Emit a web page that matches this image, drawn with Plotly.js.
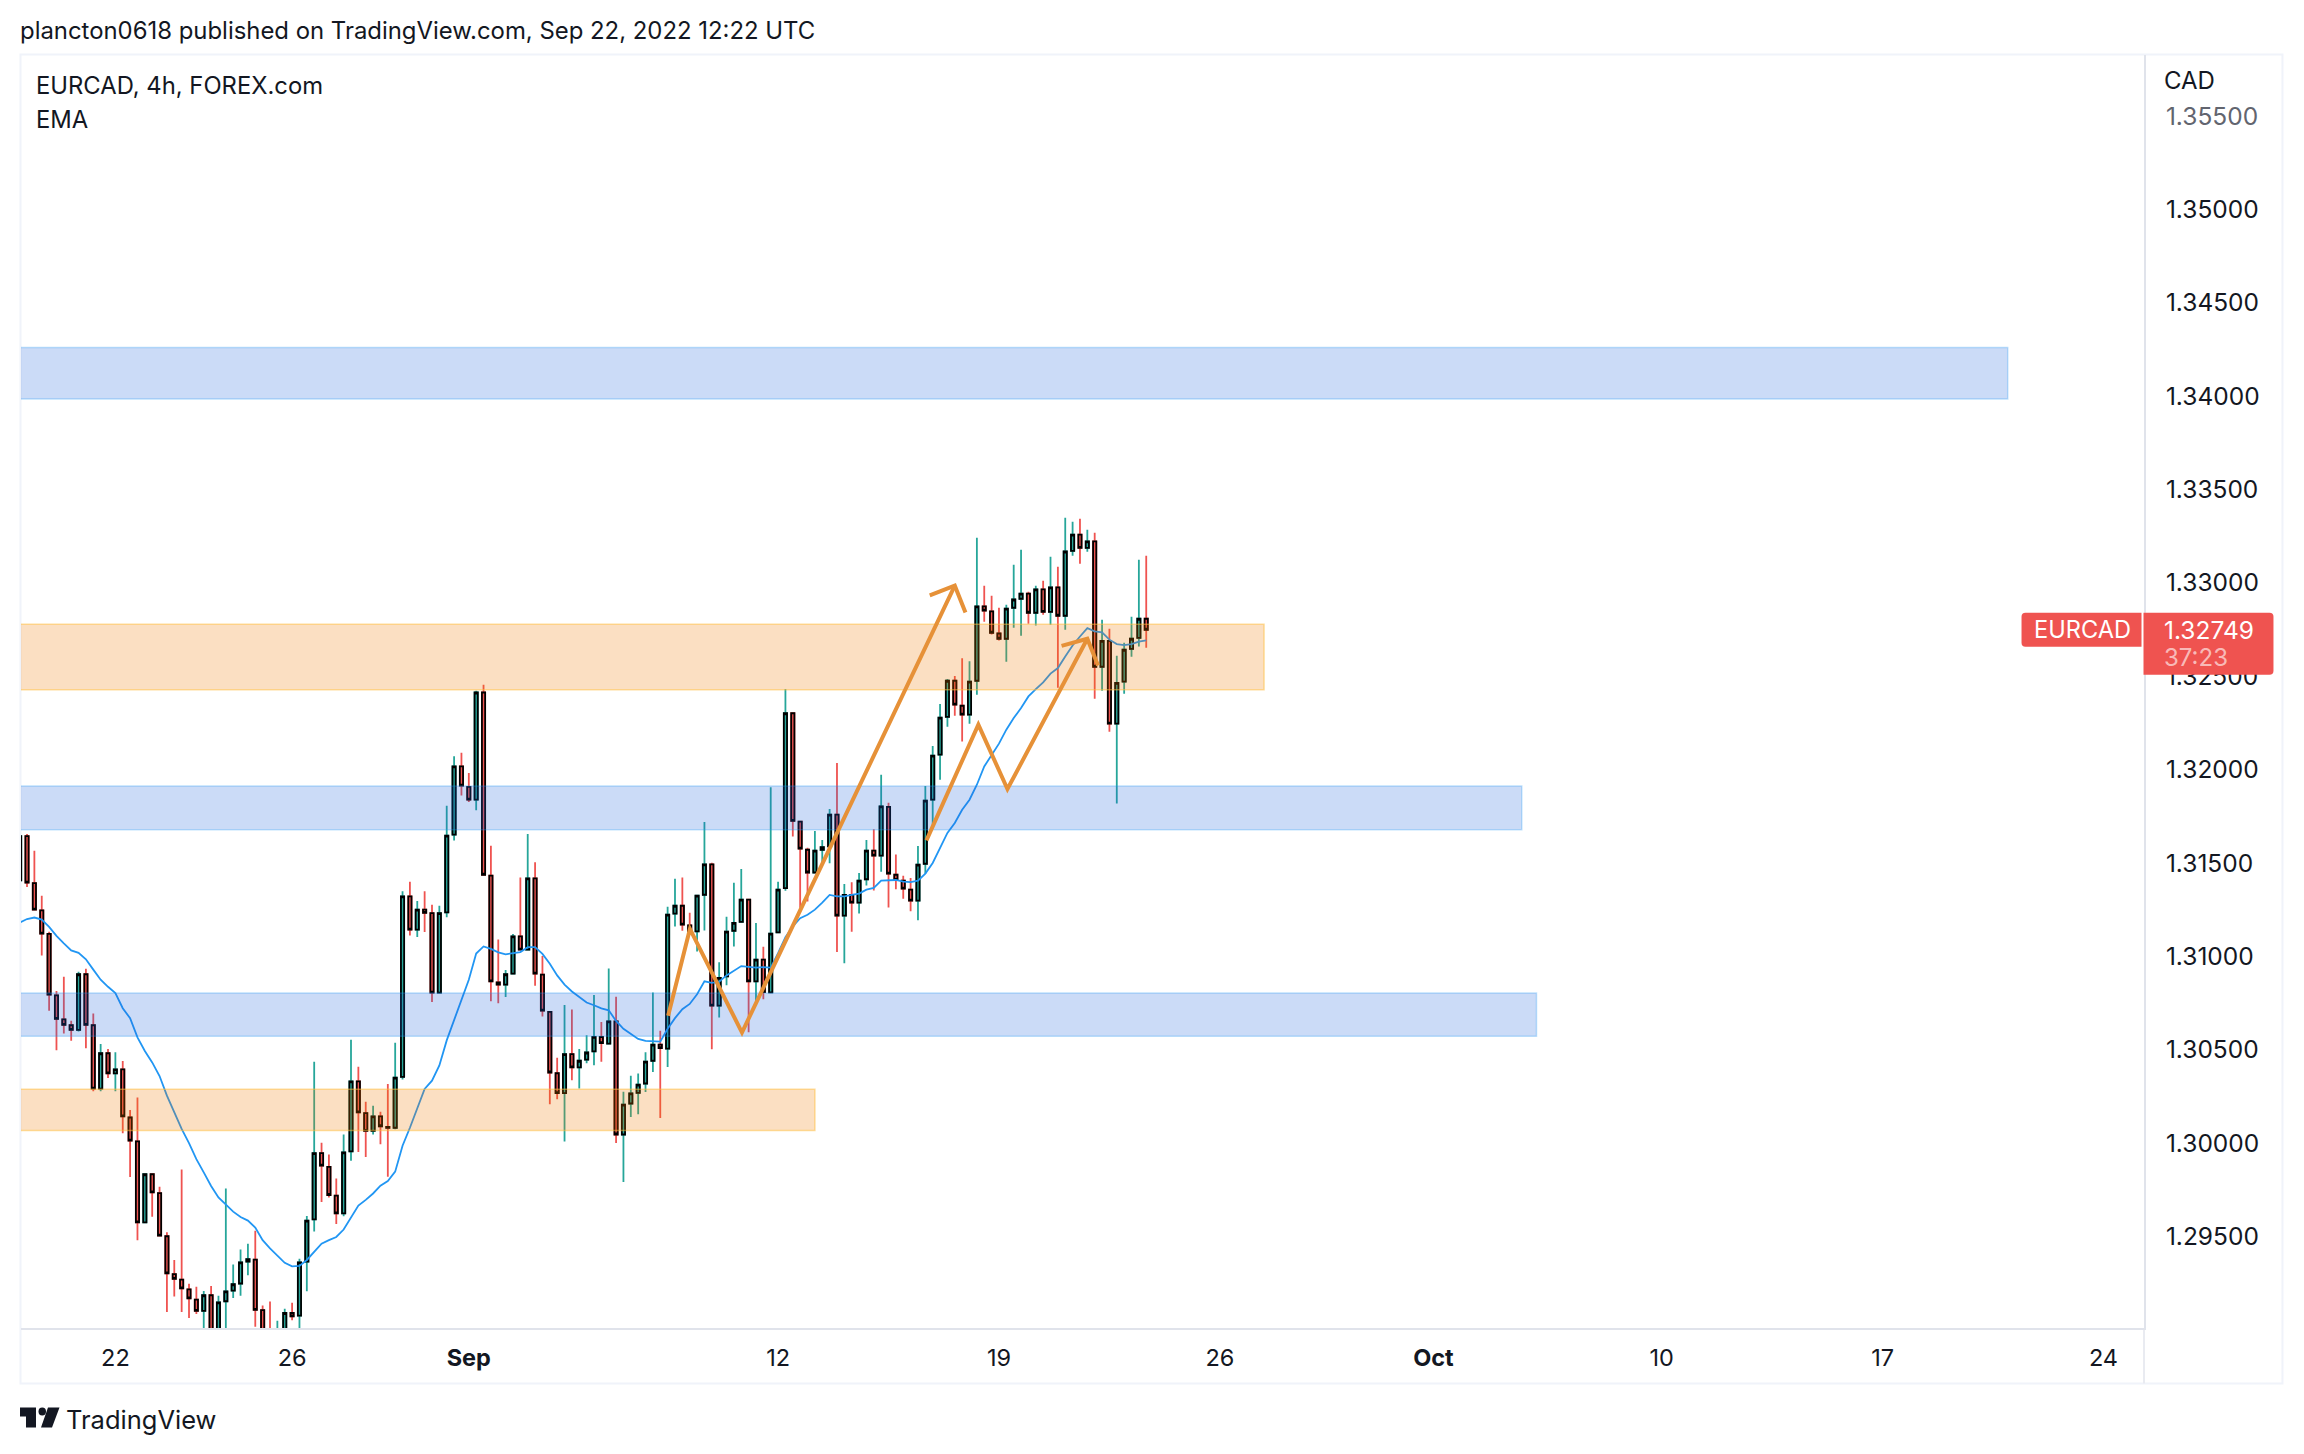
<!DOCTYPE html>
<html>
<head>
<meta charset="utf-8">
<script src="https://cdn.plot.ly/plotly-3.0.1.min.js"></script>
<style>html,body{margin:0;padding:0;background:#fff;overflow:hidden}</style>
</head>
<body>
<div id="chart" style="width:2304px;height:1454px"></div>
<script>
// Bar number 0 = Aug 22 00:00; 4h bars, six per trading day
const firstBar = -13;
const open = [1.31407,1.31644,1.31392,1.31246,1.31120,1.30791,1.30663,1.30631,1.30606,1.30904,1.30631,1.30292,1.30481,
1.30373,1.30395,1.30137,1.30009,1.29575,1.29833,1.29732,1.29501,1.29298,1.29269,1.29216,1.29162,1.29101,1.29185,1.28990,1.29153,1.29210,1.29248,1.29365,1.29376,1.29105,1.28995,1.28960,1.28990,1.29090,1.29076,1.29365,1.29591,1.29946,1.29873,1.29719,1.29623,1.29956,1.30330,1.30160,1.30065,1.30143,1.30086,1.30082,1.30355,1.31321,1.31143,1.31250,1.31231,1.30806,1.31235,1.31652,1.32017,1.31908,1.31839,1.32413,1.31432,1.30860,1.30849,1.30908,1.31107,1.31036,1.31418,1.30902,1.30703,1.30374,1.30267,1.30476,1.30405,1.30447,1.30491,1.30568,1.30533,1.30652,1.30046,1.30212,1.30269,1.30319,1.30441,1.30527,1.30506,1.31229,1.31271,1.31166,1.31134,1.31330,1.31493,1.30736,1.30893,1.31137,1.31185,1.31304,1.30866,1.30982,1.30807,1.31128,1.31365,1.32302,1.31722,1.31571,1.31449,1.31571,1.31589,1.31759,1.31218,1.31329,1.31288,1.31413,1.31566,1.31539,1.31801,1.31437,1.31405,1.31357,1.31298,1.31496,1.31839,1.32080,1.32283,1.32476,1.32342,1.32294,1.32476,1.32874,1.32847,1.32729,1.32701,1.32867,1.32915,1.32942,1.32840,1.32965,1.32845,1.32976,1.32824,1.33172,1.33259,1.33188,1.33222,1.32551,1.32690,1.32246,1.32471,1.32647,1.32706,1.32808];
const high = [1.31663,1.31655,1.31566,1.31325,1.31132,1.30814,1.30891,1.30655,1.30917,1.30933,1.30694,1.30531,1.30504,
1.30487,1.30439,1.30177,1.30244,1.29833,1.29833,1.29766,1.29522,1.29374,1.29858,1.29246,1.29231,1.29208,1.29235,1.29183,1.29757,1.29350,1.29430,1.29461,1.29531,1.29130,1.29151,1.29049,1.29113,1.29145,1.29380,1.29610,1.30436,1.30002,1.29939,1.29810,1.30046,1.30554,1.30409,1.30221,1.30200,1.30168,1.30317,1.30537,1.31349,1.31399,1.31296,1.31349,1.31277,1.31271,1.31806,1.32072,1.32091,1.31982,1.32422,1.32455,1.31592,1.31090,1.30927,1.31120,1.31422,1.31655,1.31504,1.31002,1.30707,1.30457,1.30740,1.30715,1.30504,1.30577,1.30793,1.30648,1.30935,1.30784,1.30275,1.30361,1.30373,1.30487,1.30807,1.30602,1.31265,1.31416,1.31422,1.31233,1.31327,1.31719,1.31501,1.30969,1.31212,1.31394,1.31468,1.31304,1.31179,1.31051,1.31906,1.31399,1.32432,1.32307,1.31724,1.31581,1.31671,1.31623,1.31789,1.32036,1.31388,1.31397,1.31447,1.31623,1.31680,1.31973,1.31822,1.31545,1.31432,1.31420,1.31591,1.31912,1.32126,1.32351,1.32485,1.32501,1.32597,1.32581,1.33242,1.32985,1.32931,1.32867,1.32883,1.33097,1.33177,1.32953,1.32985,1.33011,1.33140,1.33086,1.33349,1.33327,1.33343,1.33284,1.33268,1.32803,1.32754,1.32610,1.32680,1.32819,1.33124,1.33145];
const low = [1.31401,1.31372,1.31248,1.31005,1.30709,1.30497,1.30587,1.30548,1.30598,1.30508,1.30277,1.30277,1.30348,
1.30277,1.30053,1.29818,1.29480,1.29575,1.29606,1.29502,1.29095,1.29179,1.29095,1.29063,1.29084,1.28960,1.28950,1.28950,1.28980,1.29170,1.29183,1.29292,1.29017,1.28950,1.28930,1.28930,1.28960,1.29051,1.28990,1.29206,1.29527,1.29684,1.29709,1.29566,1.29608,1.29906,1.29952,1.29925,1.30046,1.29994,1.29820,1.30074,1.30340,1.31112,1.31103,1.31130,1.30755,1.30805,1.31210,1.31621,1.31862,1.31826,1.31782,1.31437,1.30759,1.30749,1.30782,1.30906,1.31032,1.31036,1.30843,1.30678,1.30208,1.30235,1.30009,1.30336,1.30292,1.30428,1.30417,1.30436,1.30531,1.30000,1.29791,1.30139,1.30155,1.30273,1.30380,1.30134,1.30407,1.31160,1.31137,1.31132,1.31026,1.31139,1.30503,1.30673,1.30845,1.31053,1.31183,1.30594,1.30759,1.30770,1.30807,1.31126,1.31351,1.31642,1.31260,1.31294,1.31447,1.31495,1.31499,1.31023,1.30963,1.31132,1.31229,1.31380,1.31353,1.31453,1.31262,1.31359,1.31309,1.31241,1.31193,1.31443,1.31705,1.31946,1.32230,1.32289,1.32150,1.32246,1.32401,1.32792,1.32724,1.32692,1.32578,1.32760,1.32717,1.32781,1.32772,1.32829,1.32776,1.32439,1.32749,1.33145,1.33102,1.33167,1.32380,1.32423,1.32203,1.31818,1.32406,1.32605,1.32660,1.32653];
const close = [1.31644,1.31395,1.31250,1.31122,1.30795,1.30665,1.30633,1.30606,1.30904,1.30633,1.30292,1.30481,1.30373,
1.30395,1.30143,1.30013,1.29575,1.29833,1.29736,1.29504,1.29302,1.29273,1.29222,1.29168,1.29101,1.29185,1.28990,1.29147,1.29206,1.29244,1.29361,1.29378,1.29107,1.28980,1.28960,1.28990,1.29090,1.29072,1.29361,1.29585,1.29946,1.29879,1.29722,1.29623,1.29950,1.30330,1.30164,1.30065,1.30143,1.30090,1.30082,1.30350,1.31321,1.31143,1.31250,1.31233,1.30806,1.31231,1.31646,1.32017,1.31914,1.31839,1.32413,1.31437,1.30866,1.30849,1.30904,1.31107,1.31036,1.31418,1.30908,1.30709,1.30378,1.30267,1.30476,1.30405,1.30441,1.30485,1.30569,1.30535,1.30652,1.30046,1.30206,1.30266,1.30313,1.30436,1.30527,1.30508,1.31223,1.31271,1.31170,1.31135,1.31325,1.31493,1.30736,1.30885,1.31132,1.31179,1.31304,1.30866,1.30982,1.30808,1.31122,1.31357,1.32302,1.31726,1.31577,1.31449,1.31566,1.31585,1.31759,1.31218,1.31329,1.31288,1.31405,1.31566,1.31539,1.31803,1.31443,1.31409,1.31363,1.31298,1.31491,1.31834,1.32075,1.32278,1.32476,1.32348,1.32294,1.32471,1.32874,1.32851,1.32733,1.32701,1.32862,1.32911,1.32942,1.32840,1.32965,1.32845,1.32976,1.32824,1.33168,1.33259,1.33188,1.33222,1.32551,1.32690,1.32246,1.32465,1.32642,1.32701,1.32808,1.32749];
const ema = [1.31181,1.31200,1.31208,1.31197,1.31158,1.31110,1.31070,1.31032,1.31019,1.30984,1.30929,1.30875,1.30837,
1.30803,1.30722,1.30669,1.30566,1.30493,1.30432,1.30359,1.30254,1.30168,1.30076,1.30000,1.29914,1.29843,1.29770,1.29709,1.29671,1.29633,1.29604,1.29585,1.29547,1.29480,1.29436,1.29396,1.29359,1.29340,1.29342,1.29374,1.29418,1.29461,1.29480,1.29497,1.29537,1.29598,1.29665,1.29696,1.29730,1.29772,1.29797,1.29847,1.29986,1.30082,1.30187,1.30290,1.30334,1.30416,1.30550,1.30655,1.30770,1.30875,1.31015,1.31053,1.31040,1.31021,1.31011,1.31017,1.31023,1.31049,1.31049,1.31013,1.30960,1.30898,1.30849,1.30812,1.30784,1.30753,1.30738,1.30721,1.30711,1.30654,1.30612,1.30583,1.30558,1.30547,1.30545,1.30543,1.30612,1.30669,1.30717,1.30745,1.30797,1.30866,1.30858,1.30864,1.30898,1.30921,1.30948,1.30944,1.30940,1.30942,1.30940,1.31017,1.31103,1.31160,1.31204,1.31223,1.31250,1.31288,1.31329,1.31321,1.31321,1.31329,1.31336,1.31357,1.31367,1.31405,1.31409,1.31409,1.31400,1.31398,1.31405,1.31443,1.31500,1.31580,1.31661,1.31714,1.31785,1.31839,1.31919,1.32017,1.32080,1.32139,1.32214,1.32276,1.32330,1.32392,1.32431,1.32467,1.32514,1.32544,1.32606,1.32665,1.32713,1.32758,1.32740,1.32735,1.32696,1.32672,1.32667,1.32672,1.32685,1.32692];

const zoneTop    = [1.34261,1.32779,1.31912,1.30804,1.30288];
const zoneBottom = [1.33985,1.32428,1.31678,1.30572,1.30067];
const zoneEnd    = [257,156,191,193,95];
const zoneKind   = ['blue','orange','blue','blue','orange'];

// Hand-drawn arrows: [bar, price] vertices
const arrowA = [[75.07,1.30682],[78.03,1.31147],[85.1,1.30592],[114.0,1.32985]];
const arrowAHead = [[110.6,1.32933],[114.0,1.32985],[115.45,1.32842]];
const arrowB = [[110.15,1.31621],[117.2,1.32241],[121.15,1.31896],[132.0,1.32701]];
const arrowBHead = [[128.5,1.32663],[132.0,1.32701],[133.45,1.32558]];

const yTicks = [1.295,1.30,1.305,1.31,1.315,1.32,1.325,1.33,1.335,1.34,1.345,1.35,1.355];
const xTicks = [0,24,48,90,120,150,179,210,240,270];
const xLabels = ['22','26','<b>Sep</b>','12','19','26','<b>Oct</b>','10','17','24'];

const headerText = 'plancton0618 published on TradingView.com, Sep 22, 2022 12:22 UTC';
const symbolText = 'EURCAD, 4h, FOREX.com';
const studyText = 'EMA';
const lastPrice = '1.32749';
const countdown = '37:23';

const W = 2304, H = 1454, L = 21, R = 2144.5, T = 55, B = 1328.5;
const FONT = 'Inter, "Noto Sans", sans-serif', INK = '#131722', UP = '#26a69a', DOWN = '#ef5350';
const px = x => (x - L) / (R - L), py = y => (B - y) / (B - T);
const bars = open.map((_, k) => k + firstBar);

const toPath = pts => 'M' + pts.map(p => p[0] + ',' + p[1]).join(' L');
const pxPath = pts => 'M' + pts.map(p => px(p[0]) + ',' + py(p[1])).join(' L') + ' Z';
const paperRect = (x0, y0, x1, y1, extra) => Object.assign({type:'rect', xref:'paper', yref:'paper', x0:px(x0), x1:px(x1), y0:py(y0), y1:py(y1), layer:'above'}, extra);
const STYLES = {
  blue:{fillcolor:'rgba(30,100,220,0.23)', line:{color:'rgba(33,150,243,0.28)', width:1.5}},
  orange:{fillcolor:'rgba(240,120,0,0.24)', line:{color:'rgba(255,190,60,0.5)', width:1.5}}
};

const shapes = [];
zoneTop.forEach((t, k) => shapes.push(Object.assign({type:'rect', xref:'x', yref:'y', layer:'above', x0:-40, x1:zoneEnd[k], y0:zoneBottom[k], y1:t}, STYLES[zoneKind[k]])));
[arrowA, arrowAHead, arrowB, arrowBHead].forEach(a => shapes.push({type:'path', xref:'x', yref:'y', layer:'above', path:toPath(a), line:{color:'#e69138', width:4}}));
// Frame and the time-scale / price-scale junction
shapes.push(paperRect(20.5, 54.5, 2283, 1384, {line:{color:'#f0f3fa', width:2}, fillcolor:'rgba(0,0,0,0)', layer:'below'}));
shapes.push({type:'line', xref:'paper', yref:'paper', layer:'below', x0:1, x1:1, y0:py(1329), y1:py(1384), line:{color:'#e9ebf1', width:2}});
// Last-price tags
const rr = 4;
shapes.push({type:'path', xref:'paper', yref:'paper', layer:'above', fillcolor:DOWN, line:{width:0},
  path:`M${px(2142)},${py(613)} L${px(2022+rr)},${py(613)} Q${px(2022)},${py(613)} ${px(2022)},${py(613+rr)} L${px(2022)},${py(647-rr)} Q${px(2022)},${py(647)} ${px(2022+rr)},${py(647)} L${px(2142)},${py(647)} Z`});
shapes.push({type:'path', xref:'paper', yref:'paper', layer:'above', fillcolor:DOWN, line:{width:0},
  path:`M${px(2144)},${py(613)} L${px(2274-rr)},${py(613)} Q${px(2274)},${py(613)} ${px(2274)},${py(613+rr)} L${px(2274)},${py(675-rr)} Q${px(2274)},${py(675)} ${px(2274-rr)},${py(675)} L${px(2144)},${py(675)} Z`});
// TradingView logo
shapes.push({type:'path', xref:'paper', yref:'paper', layer:'above', fillcolor:INK, line:{width:0}, path:pxPath([[20,1408],[36,1408],[36,1428],[26,1428],[26,1417],[20,1417]])});
shapes.push({type:'circle', xref:'paper', yref:'paper', layer:'above', fillcolor:INK, line:{width:0}, x0:px(38.5), x1:px(46), y0:py(1408), y1:py(1416)});
shapes.push({type:'path', xref:'paper', yref:'paper', layer:'above', fillcolor:INK, line:{width:0}, path:pxPath([[48,1408],[59.5,1408],[52,1428],[41,1428]])});

const note = (text, x, y, size, color, extra) => Object.assign({text, x:px(x), y:py(y), xref:'paper', yref:'paper', xanchor:'left', yanchor:'middle', showarrow:false, borderpad:0, font:{family:FONT, size, color}}, extra);
const annotations = [
  note(symbolText, 35, 86, 23.8, INK),
  note(studyText, 35, 120, 23.8, INK),
  note('CAD', 2163.5, 80.5, 24, INK),
  note('EURCAD', 2033, 630, 23.6, '#ffffff'),
  note(lastPrice, 2164, 630, 24.5, '#ffffff'),
  note(countdown, 2164, 658, 24, 'rgba(255,255,255,0.62)'),
  note('TradingView', 65, 1420, 25.5, INK)
];

const wicks = {
  type:'candlestick', x:bars, open, high, low, close, whiskerwidth:0, hoverinfo:'skip', showlegend:false,
  increasing:{line:{color:UP, width:1.8}, fillcolor:UP},
  decreasing:{line:{color:DOWN, width:1.8}, fillcolor:DOWN}
};
const bodies = {
  type:'candlestick', x:bars, open, close, whiskerwidth:0, hoverinfo:'skip', showlegend:false,
  high:open.map((o, k) => Math.max(o, close[k])), low:open.map((o, k) => Math.min(o, close[k])),
  increasing:{line:{color:'#000000', width:1.8}, fillcolor:UP},
  decreasing:{line:{color:'#000000', width:1.8}, fillcolor:DOWN}
};
const emaLine = {type:'scatter', mode:'lines', x:bars, y:ema, line:{color:'#2196f3', width:1.8}, hoverinfo:'skip', showlegend:false};

const yPrice = p => 1.35 + (209.5 - p) * 5.3533e-5;
const layout = {
  width:W, height:H, autosize:false, paper_bgcolor:'#ffffff', plot_bgcolor:'#ffffff',
  margin:{l:L, r:W-R, t:T, b:H-B, pad:0}, showlegend:false, hovermode:false, dragmode:false,
  boxmode:'overlay', boxgap:0.38,
  title:{text:headerText, x:20/W, xref:'container', xanchor:'left', y:1-31/H, yref:'container', yanchor:'middle', pad:{l:0,r:0,t:0,b:0}, font:{family:FONT, size:23.9, color:INK}},
  xaxis:{type:'linear', range:[(L-115.4)/7.365,(R-115.4)/7.365], rangeslider:{visible:false}, tickmode:'array', tickvals:xTicks, ticktext:xLabels,
    ticks:'', showgrid:false, zeroline:false, showline:true, linecolor:'#e0e3eb', linewidth:2, tickfont:{family:FONT, size:23.5, color:INK}, ticklabelstandoff:8, automargin:false},
  yaxis:{type:'linear', side:'right', range:[yPrice(B), yPrice(T)], tickmode:'array', tickvals:yTicks, ticktext:yTicks.map(v => v === 1.355 ? '<span style="color:#62656f">'+v.toFixed(5)+'</span>' : v.toFixed(5)),
    ticks:'', showgrid:false, zeroline:false, showline:true, linecolor:'#e0e3eb', linewidth:2, tickfont:{family:FONT, size:24.5, color:INK}, ticklabelstandoff:15, automargin:false},
  shapes, annotations
};
Plotly.newPlot('chart', [wicks, bodies, emaLine], layout, {displayModeBar:false, staticPlot:true});
</script>
</body>
</html>
